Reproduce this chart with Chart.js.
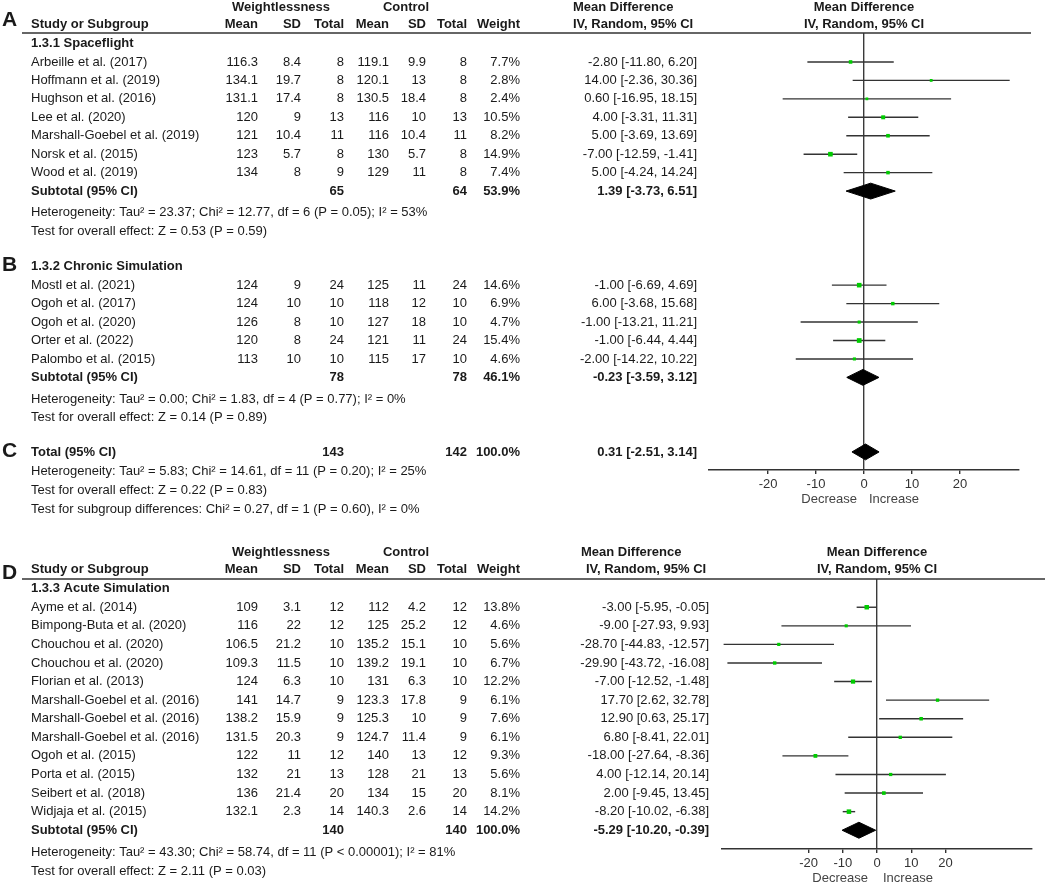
<!doctype html>
<html lang="en">
<head>
<meta charset="utf-8">
<title>Forest plot: weightlessness vs control</title>
<script src="https://cdn.jsdelivr.net/npm/chart.js"></script>
<style>
  html, body { margin: 0; padding: 0; background: #fff; }
  .panel { position: relative; width: 1045px; }
  #top { height: 520px; }
  #bottom { height: 364px; }
</style>
</head>
<body>
<div class="panel" id="top"><canvas id="chartTop"></canvas></div>
<div class="panel" id="bottom"><canvas id="chartBottom"></canvas></div>

<script>
// ---- data ----
const xTicks = [-20, -10, 0, 10, 20];

// 1.3.1 Spaceflight
const spaceStudies = ['Arbeille et al. (2017)', 'Hoffmann et al. (2019)', 'Hughson et al. (2016)', 'Lee et al. (2020)',
  'Marshall-Goebel et al. (2019)', 'Norsk et al. (2015)', 'Wood et al. (2019)'];
const spaceWMean = [116.3, 134.1, 131.1, 120, 121, 123, 134];
const spaceWSD = [8.4, 19.7, 17.4, 9, 10.4, 5.7, 8];
const spaceWN = [8, 8, 8, 13, 11, 8, 9];
const spaceCMean = [119.1, 120.1, 130.5, 116, 116, 130, 129];
const spaceCSD = [9.9, 13, 18.4, 10, 10.4, 5.7, 11];
const spaceCN = [8, 8, 8, 13, 11, 8, 8];
const spaceWeight = [7.7, 2.8, 2.4, 10.5, 8.2, 14.9, 7.4];
const spaceMD = [-2.80, 14.00, 0.60, 4.00, 5.00, -7.00, 5.00];
const spaceLo = [-11.80, -2.36, -16.95, -3.31, -3.69, -12.59, -4.24];
const spaceHi = [6.20, 30.36, 18.15, 11.31, 13.69, -1.41, 14.24];
const spaceTotalN = [65, 64];
const spaceSummary = [53.9, 1.39, -3.73, 6.51]; // weight, md, lo, hi
const spaceStats = ['Heterogeneity: Tau² = 23.37; Chi² = 12.77, df = 6 (P = 0.05); I² = 53%',
  'Test for overall effect: Z = 0.53 (P = 0.59)'];

// 1.3.2 Chronic Simulation
const chronicStudies = ['Mostl et al. (2021)', 'Ogoh et al. (2017)', 'Ogoh et al. (2020)', 'Orter et al. (2022)', 'Palombo et al. (2015)'];
const chronicWMean = [124, 124, 126, 120, 113];
const chronicWSD = [9, 10, 8, 8, 10];
const chronicWN = [24, 10, 10, 24, 10];
const chronicCMean = [125, 118, 127, 121, 115];
const chronicCSD = [11, 12, 18, 11, 17];
const chronicCN = [24, 10, 10, 24, 10];
const chronicWeight = [14.6, 6.9, 4.7, 15.4, 4.6];
const chronicMD = [-1.00, 6.00, -1.00, -1.00, -2.00];
const chronicLo = [-6.69, -3.68, -13.21, -6.44, -14.22];
const chronicHi = [4.69, 15.68, 11.21, 4.44, 10.22];
const chronicTotalN = [78, 78];
const chronicSummary = [46.1, -0.23, -3.59, 3.12];
const chronicStats = ['Heterogeneity: Tau² = 0.00; Chi² = 1.83, df = 4 (P = 0.77); I² = 0%',
  'Test for overall effect: Z = 0.14 (P = 0.89)'];

// Total of 1.3.1 + 1.3.2
const overallTotalN = [143, 142];
const overallSummary = [100.0, 0.31, -2.51, 3.14];
const overallStats = ['Heterogeneity: Tau² = 5.83; Chi² = 14.61, df = 11 (P = 0.20); I² = 25%',
  'Test for overall effect: Z = 0.22 (P = 0.83)',
  'Test for subgroup differences: Chi² = 0.27, df = 1 (P = 0.60), I² = 0%'];

// 1.3.3 Acute Simulation
const acuteStudies = ['Ayme et al. (2014)', 'Bimpong-Buta et al. (2020)', 'Chouchou et al. (2020)', 'Chouchou et al. (2020)',
  'Florian et al. (2013)', 'Marshall-Goebel et al. (2016)', 'Marshall-Goebel et al. (2016)', 'Marshall-Goebel et al. (2016)',
  'Ogoh et al. (2015)', 'Porta et al. (2015)', 'Seibert et al. (2018)', 'Widjaja et al. (2015)'];
const acuteWMean = [109, 116, 106.5, 109.3, 124, 141, 138.2, 131.5, 122, 132, 136, 132.1];
const acuteWSD = [3.1, 22, 21.2, 11.5, 6.3, 14.7, 15.9, 20.3, 11, 21, 21.4, 2.3];
const acuteWN = [12, 12, 10, 10, 10, 9, 9, 9, 12, 13, 20, 14];
const acuteCMean = [112, 125, 135.2, 139.2, 131, 123.3, 125.3, 124.7, 140, 128, 134, 140.3];
const acuteCSD = [4.2, 25.2, 15.1, 19.1, 6.3, 17.8, 10, 11.4, 13, 21, 15, 2.6];
const acuteCN = [12, 12, 10, 10, 10, 9, 9, 9, 12, 13, 20, 14];
const acuteWeight = [13.8, 4.6, 5.6, 6.7, 12.2, 6.1, 7.6, 6.1, 9.3, 5.6, 8.1, 14.2];
const acuteMD = [-3.00, -9.00, -28.70, -29.90, -7.00, 17.70, 12.90, 6.80, -18.00, 4.00, 2.00, -8.20];
const acuteLo = [-5.95, -27.93, -44.83, -43.72, -12.52, 2.62, 0.63, -8.41, -27.64, -12.14, -9.45, -10.02];
const acuteHi = [-0.05, 9.93, -12.57, -16.08, -1.48, 32.78, 25.17, 22.01, -8.36, 20.14, 13.45, -6.38];
const acuteTotalN = [140, 140];
const acuteSummary = [100.0, -5.29, -10.20, -0.39];
const acuteStats = ['Heterogeneity: Tau² = 43.30; Chi² = 58.74, df = 11 (P < 0.00001); I² = 81%',
  'Test for overall effect: Z = 2.11 (P = 0.03)'];

// ---- layout ----
const FONT = '"Liberation Sans", Arial, sans-serif';
const INK = '#1a1a1a';
const GREEN = '#00cc00';
const LINE = '#333';
const col = { name: 31, wMean: 258, wSD: 301, wN: 344, cMean: 389, cSD: 426, cN: 467, weight: 520 };

const fmtCI = (m, l, h) => `${m.toFixed(2)} [${l.toFixed(2)}, ${h.toFixed(2)}]`;

function headerTexts(mdLeft1, mdLeft2) {
  return [
    { t: 'Weightlessness', x: 281, r: -1.95, align: 'center', bold: true },
    { t: 'Control', x: 406, r: -1.95, align: 'center', bold: true },
    { t: 'Mean Difference', x: mdLeft1, r: -1.95, align: 'left', bold: true },
    { t: 'Mean Difference', xv: 0, r: -1.95, align: 'center', bold: true },
    { t: 'Study or Subgroup', x: col.name, r: -1.05, align: 'left', bold: true },
    { t: 'Mean', x: col.wMean, r: -1.05, bold: true },
    { t: 'SD', x: col.wSD, r: -1.05, bold: true },
    { t: 'Total', x: col.wN, r: -1.05, bold: true },
    { t: 'Mean', x: col.cMean, r: -1.05, bold: true },
    { t: 'SD', x: col.cSD, r: -1.05, bold: true },
    { t: 'Total', x: col.cN, r: -1.05, bold: true },
    { t: 'Weight', x: col.weight, r: -1.05, bold: true },
    { t: 'IV, Random, 95% CI', x: mdLeft2, r: -1.05, align: 'left', bold: true },
    { t: 'IV, Random, 95% CI', xv: 0, r: -1.05, align: 'center', bold: true }
  ];
}

// builds table text, CI segments and squares for one subgroup starting at row r0
function subgroup(g, r0, ciRight, texts, marks) {
  texts.push({ t: g.title, x: col.name, r: r0, align: 'left', bold: true });
  g.names.forEach((n, i) => {
    const r = r0 + 1 + i;
    texts.push({ t: n, x: col.name, r, align: 'left' });
    texts.push({ t: String(g.wMean[i]), x: col.wMean, r });
    texts.push({ t: String(g.wSD[i]), x: col.wSD, r });
    texts.push({ t: String(g.wN[i]), x: col.wN, r });
    texts.push({ t: String(g.cMean[i]), x: col.cMean, r });
    texts.push({ t: String(g.cSD[i]), x: col.cSD, r });
    texts.push({ t: String(g.cN[i]), x: col.cN, r });
    texts.push({ t: g.weight[i].toFixed(1) + '%', x: col.weight, r });
    texts.push({ t: fmtCI(g.md[i], g.lo[i], g.hi[i]), x: ciRight, r });
    marks.ci.push({ lo: g.lo[i], hi: g.hi[i], r });
    marks.sq.push({ x: g.md[i], y: r, w: g.weight[i] });
  });
  const rs = r0 + 1 + g.names.length;
  summaryRow('Subtotal (95% CI)', g.totalN, g.summary, rs, ciRight, texts, marks);
  g.stats.forEach((s, k) => texts.push({ t: s, x: col.name, r: rs + 1.17 + k * 1.02, align: 'left' }));
  return rs;
}

function summaryRow(label, n, s, r, ciRight, texts, marks) {
  texts.push({ t: label, x: col.name, r, align: 'left', bold: true });
  texts.push({ t: String(n[0]), x: col.wN, r, bold: true });
  texts.push({ t: String(n[1]), x: col.cN, r, bold: true });
  texts.push({ t: s[0].toFixed(1) + '%', x: col.weight, r, bold: true });
  texts.push({ t: fmtCI(s[1], s[2], s[3]), x: ciRight, r, bold: true });
  marks.dia.push({ md: s[1], lo: s[2], hi: s[3], r });
}

function tablePlugin(texts, letters, lineRight, labelGap) {
  return {
    id: 'forestTable',
    afterDraw(chart) {
      const { ctx, chartArea, scales } = chart;
      const xs = scales.x, ys = scales.y;
      ctx.save();
      ctx.fillStyle = INK;
      ctx.textBaseline = 'middle';
      texts.forEach(it => {
        ctx.font = (it.bold ? 'bold ' : '') + '13px ' + FONT;
        ctx.textAlign = it.align || 'right';
        const x = it.xv !== undefined ? xs.getPixelForValue(it.xv) : it.x;
        ctx.fillText(it.t, x, ys.getPixelForValue(it.r));
      });
      ctx.font = 'bold 21px ' + FONT;
      ctx.textAlign = 'left';
      letters.forEach(l => ctx.fillText(l.t, 2, ys.getPixelForValue(l.r)));
      // rule under the column headers
      ctx.strokeStyle = LINE;
      ctx.lineWidth = 1.6;
      ctx.beginPath();
      ctx.moveTo(22, chartArea.top);
      ctx.lineTo(lineRight, chartArea.top);
      ctx.stroke();
      // direction labels under the axis
      const x0 = xs.getPixelForValue(0);
      ctx.font = '13px ' + FONT;
      ctx.fillStyle = '#444';
      ctx.textAlign = 'right';
      ctx.fillText('Decrease', x0 - labelGap[0], chartArea.bottom + labelGap[2]);
      ctx.textAlign = 'left';
      ctx.fillText('Increase', x0 + labelGap[1], chartArea.bottom + labelGap[2]);
      ctx.restore();
    }
  };
}

function forestChart(id, cfg, texts, marks, letters) {
  const h = 0.43;
  const datasets = [];
  datasets.push({
    data: marks.sq.map(p => ({ x: p.x, y: p.y })),
    showLine: false,
    pointStyle: 'rect',
    // square side grows with study weight
    pointRadius: marks.sq.map(p => (2.4 + 0.15 * p.w) / Math.SQRT2),
    pointBackgroundColor: GREEN,
    pointBorderWidth: 0,
    order: 0
  });
  marks.ci.forEach(c => datasets.push({
    data: [{ x: c.lo, y: c.r }, { x: c.hi, y: c.r }],
    borderColor: LINE, borderWidth: 1.4, pointRadius: 0, fill: false, order: 1
  }));
  marks.dia.forEach(d => datasets.push({
    data: [{ x: d.lo, y: d.r }, { x: d.md, y: d.r - h }, { x: d.hi, y: d.r }, { x: d.md, y: d.r + h }, { x: d.lo, y: d.r }],
    borderColor: '#000', backgroundColor: '#000', borderWidth: 1, pointRadius: 0, fill: 'shape', order: 2
  }));

  return new Chart(document.getElementById(id), {
    type: 'line',
    data: { datasets },
    options: {
      responsive: true,
      maintainAspectRatio: false,
      animation: false,
      events: [],
      layout: { padding: { left: cfg.left, right: cfg.right, top: cfg.top, bottom: 0 } },
      plugins: { legend: { display: false }, tooltip: { enabled: false } },
      scales: {
        x: {
          type: 'linear', min: -cfg.range, max: cfg.range,
          afterBuildTicks: s => { s.ticks = xTicks.map(v => ({ value: v })); },
          afterFit: s => { s.height = cfg.axisH; },
          border: { display: true, color: LINE, width: 1.4 },
          grid: {
            color: c => (c.tick && c.tick.value === 0 ? '#3a3a3a' : 'rgba(0,0,0,0)'),
            tickColor: LINE, tickLength: 4, lineWidth: 1.4
          },
          ticks: { color: '#333', padding: 3, font: { family: FONT, size: 13 }, maxRotation: 0 }
        },
        y: { type: 'linear', display: false, reverse: true, min: cfg.yMin, max: cfg.yMax }
      }
    },
    plugins: [tablePlugin(texts, letters, cfg.lineRight, cfg.labelGap)]
  });
}

// ---- top chart: A, B, C ----
const topTexts = headerTexts(573, 573);
const topMarks = { ci: [], sq: [], dia: [] };
subgroup({ title: '1.3.1 Spaceflight', names: spaceStudies, wMean: spaceWMean, wSD: spaceWSD, wN: spaceWN,
  cMean: spaceCMean, cSD: spaceCSD, cN: spaceCN, weight: spaceWeight, md: spaceMD, lo: spaceLo, hi: spaceHi,
  totalN: spaceTotalN, summary: spaceSummary, stats: spaceStats }, 0, 697, topTexts, topMarks);
subgroup({ title: '1.3.2 Chronic Simulation', names: chronicStudies, wMean: chronicWMean, wSD: chronicWSD, wN: chronicWN,
  cMean: chronicCMean, cSD: chronicCSD, cN: chronicCN, weight: chronicWeight, md: chronicMD, lo: chronicLo, hi: chronicHi,
  totalN: chronicTotalN, summary: chronicSummary, stats: chronicStats }, 12.1, 697, topTexts, topMarks);
summaryRow('Total (95% CI)', overallTotalN, overallSummary, 22.14, 697, topTexts, topMarks);
overallStats.forEach((s, k) => topTexts.push({ t: s, x: col.name, r: 23.2 + k * 1.02, align: 'left' }));

forestChart('chartTop',
  { left: 709, right: 26, top: 33, axisH: 50, range: 32.3, yMin: -0.57, yMax: 23.12, lineRight: 1031, labelGap: [7, 5, 29] },
  topTexts, topMarks,
  [{ t: 'A', r: -1.25 }, { t: 'B', r: 12.0 }, { t: 'C', r: 22.1 }]);

// ---- bottom chart: D ----
const botTexts = headerTexts(581, 586);
const botMarks = { ci: [], sq: [], dia: [] };
subgroup({ title: '1.3.3 Acute Simulation', names: acuteStudies, wMean: acuteWMean, wSD: acuteWSD, wN: acuteWN,
  cMean: acuteCMean, cSD: acuteCSD, cN: acuteCN, weight: acuteWeight, md: acuteMD, lo: acuteLo, hi: acuteHi,
  totalN: acuteTotalN, summary: acuteSummary, stats: acuteStats }, 0, 709, botTexts, botMarks);

forestChart('chartBottom',
  { left: 722, right: 13, top: 59, axisH: 35, range: 45.3, yMin: -0.52, yMax: 14.01, lineRight: 1045, labelGap: [9, 6, 29] },
  botTexts, botMarks,
  [{ t: 'D', r: -0.85 }]);
</script>
</body>
</html>
